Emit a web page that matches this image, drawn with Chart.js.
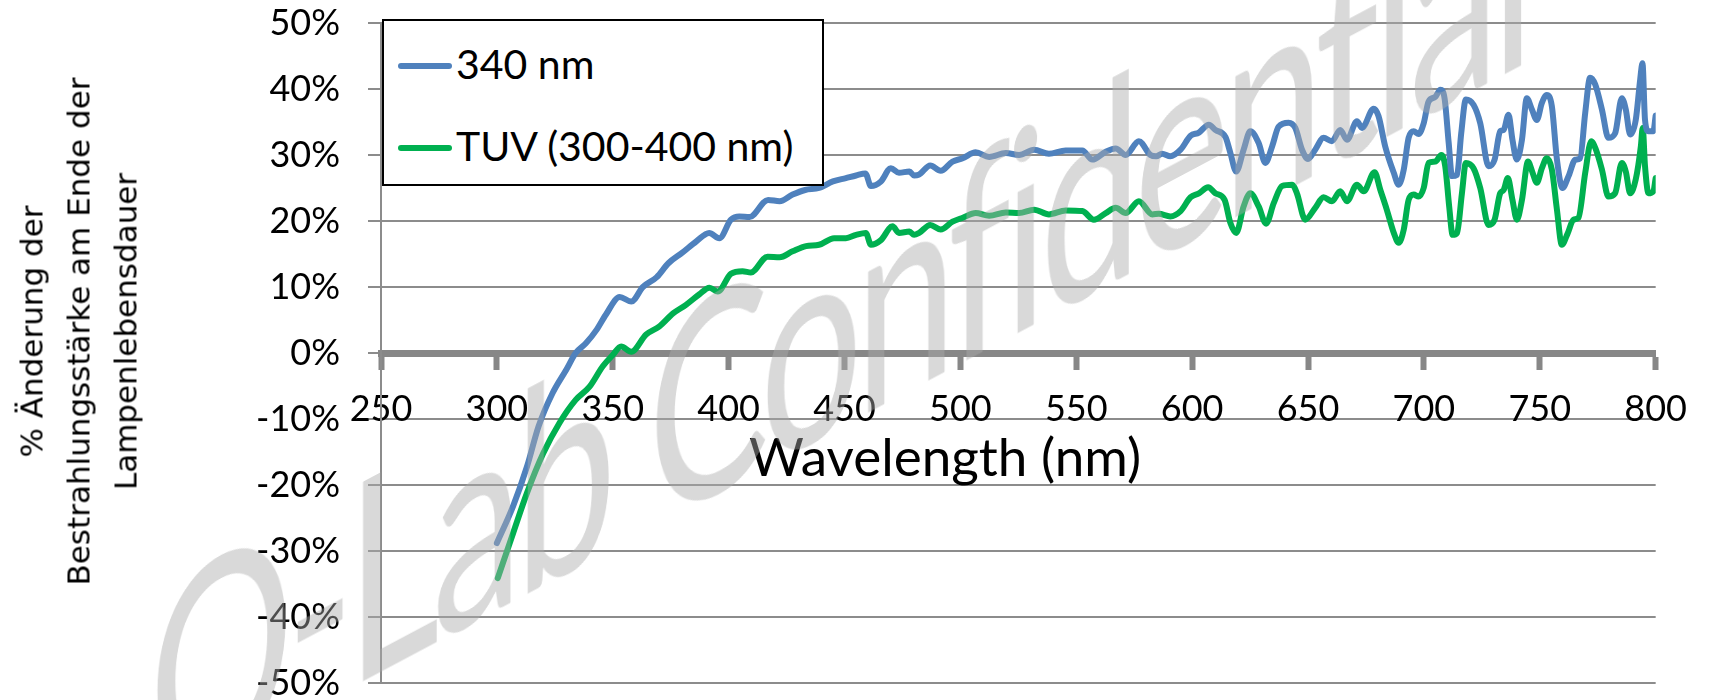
<!DOCTYPE html>
<html lang="de">
<head>
<meta charset="utf-8">
<title>Änderung der Bestrahlungsstärke</title>
<script src="https://cdn.jsdelivr.net/npm/chart.js@4.4.1/dist/chart.umd.min.js"></script>
<style>
  html, body { margin: 0; padding: 0; background: #fff; overflow: hidden; }
  #wrap { position: relative; width: 1709px; height: 700px; overflow: hidden; }
  #chart { position: absolute; left: 0; top: 0; }
  .ytitle {
    position: absolute; width: 560px; height: 141px;
    left: -201px; top: 261px;
    transform: rotate(-90deg); transform-origin: 50% 50%;
    font-family: 'DejaVu Sans', sans-serif; font-size: 31px; line-height: 47px;
    text-align: center; color: #000; white-space: nowrap;
  }
  .xtitle {
    position: absolute; left: 645px; width: 600px; top: 429px;
    font-family: Lato, sans-serif; font-size: 53px; line-height: 53px;
    text-align: center; color: #000;
  }
  .legend {
    position: absolute; left: 382px; top: 19px; width: 438px; height: 163px;
    border: 2px solid #000; background: #fff;
    font-family: Lato, sans-serif; font-size: 41px; color: #000;
  }
  .legend .row { position: absolute; left: 14px; height: 50px; line-height: 50px; white-space: nowrap; }
  .legend .swatch { display: inline-block; width: 54px; height: 6px; vertical-align: middle; margin-right: 4px; position: relative; top: -3px; border-radius: 3px; }
  .watermark {
    position: absolute; left: 838px; top: 322px;
    transform: translate(-50%, -50%) rotate(-28deg) skewX(-28deg) scaleY(1.2);
    font-family: Lato, sans-serif; font-size: 205px; letter-spacing: -0.04em; line-height: 1; white-space: nowrap;
    color: rgba(170, 170, 170, 0.45); pointer-events: none;
  }
</style>
</head>
<body>
<div id="wrap">
  <canvas id="chart" width="1709" height="700"></canvas>
  <div class="ytitle">% Änderung der<br>Bestrahlungsstärke am Ende der<br>Lampenlebensdauer</div>
  <div class="xtitle">Wavelength (nm)</div>
  <div class="legend" id="legend"></div>
  <div class="watermark">Q-Lab Confidential</div>
</div>
<script>
// ---- data (wavelength in nm, change in %) ----
const SERIES_340_LABEL = '340 nm';
const SERIES_TUV_LABEL = 'TUV (300-400 nm)';

const nm340 = [300, 307, 313, 318, 324, 330, 334, 338.5, 343, 347, 353, 358, 363, 369, 374, 380, 386, 391.6, 396, 401,
  404.6, 409, 417, 422, 427.6, 433, 439, 445, 450.6, 455, 459, 461.4, 465.7, 470, 473.5, 478, 480, 482, 487, 491.5,
  496.6, 501, 506.6, 512.4, 519.6, 525.3, 531.8, 538.2, 545.4, 552.6, 556.9, 562.7, 567, 571.3, 577, 582, 584.5, 587, 590.6, 595,
  599.3, 602.9, 607.2, 610, 614.4, 616.5, 619, 622.2, 625.1, 628.7, 631.6, 634.5, 637.3, 641.6, 644.5, 647.4, 650, 653.1, 656.7, 660.3,
  663.9, 666.8, 671.1, 673.3, 678.3, 680.4, 683.3, 687, 689.1, 691.3, 693.4, 695.6, 697.7, 699.9, 702, 704.9, 707.1, 708.9, 710.7, 712.1,
  714.3, 716.1, 718.1, 721.4, 724.3, 727.9, 730.5, 732.9, 734.4, 736.5, 738.2, 740.1, 742.3, 744.4, 746.6, 748.7, 750.9, 753, 755.2, 757.4,
  759.8, 762.4, 765.3, 767.4, 769.6, 771.7, 773.9, 776.8, 779.6, 782.5, 785.4, 787.1, 789, 791.4, 793.3, 794.3, 795.4, 796.9, 799, 800];
const pct340 = [-28.8, -23.2, -17.2, -11.1, -6.1, -2.5, 0, 1.5, 3.5, 5.8, 8.5, 7.8, 10, 11.5, 13.6, 15.2, 16.9, 18.2, 17.4, 20.2,
  20.7, 20.6, 23.2, 23, 24, 24.7, 25, 26, 26.5, 26.9, 27.2, 25.3, 26, 28, 27.3, 27.5, 26.9, 27, 28.4, 27.6,
  29, 29.5, 30.4, 29.7, 30.3, 30, 30.8, 30.2, 30.7, 30.7, 29.3, 30.5, 31, 30, 32.1, 30, 29.8, 30.2, 29.8, 30.8,
  32.9, 33.4, 34.6, 33.8, 32.7, 30.3, 27.5, 30.8, 33.6, 31.8, 28.8, 31.3, 34.3, 34.9, 34.1, 30.8, 29.4, 30.8, 32.6, 32.1,
  33.8, 32.3, 35.1, 34.1, 37, 35.9, 31.3, 27.3, 25.5, 27.8, 32.6, 33.6, 33.2, 34.8, 38.1, 38.8, 39.9, 38.6, 31.8, 26.8,
  27, 33.3, 38.4, 37.6, 34.8, 28.3, 29.3, 33.6, 33.8, 36.1, 32.3, 29.3, 32.3, 38.6, 36.9, 35.3, 37.9, 39.1, 37.4, 29.3,
  25, 26.8, 29.3, 29.5, 36.4, 41.7, 40.7, 36.9, 32.6, 33.3, 38.6, 36.9, 33.1, 35.3, 41.4, 43.9, 35.3, 33.6, 33.6, 36];

const nmTuv = [300.4, 307, 313, 320, 327, 334, 340, 345.7, 350, 353.6, 358, 364.4, 370, 376, 381.6, 387.4, 391.7, 395.3, 401, 406,
  409.6, 416.8, 422, 427.6, 433.4, 439, 445.5, 450.6, 455, 459.2, 461.4, 465.7, 470.7, 473.5, 478, 480, 482.2, 487, 491.5, 496.6,
  501, 506.6, 512.4, 519.6, 525.3, 531.8, 538.2, 545.4, 552.6, 557.6, 562.7, 567, 571.3, 577, 582.8, 585.6, 590.6, 595, 599.3, 602.9,
  606.9, 610, 614, 616.5, 619, 622.2, 625.1, 628.7, 631.9, 635.2, 638.8, 643.1, 645.2, 648.8, 653.1, 656.7, 660.3, 663.9, 666.8, 671.1,
  674, 678.7, 681.2, 684, 687, 689.1, 691.3, 693.4, 695.6, 697.7, 699.9, 702, 704.9, 707.5, 709.2, 710.9, 712.4, 714.3, 716.4, 718.1,
  721.4, 724.3, 727.9, 730.5, 732.9, 734.4, 736.2, 738.2, 740.1, 742.3, 744.9, 746.9, 748.7, 750.9, 753, 755.2, 757.4, 759.5, 762.1, 764.5,
  766.7, 769.6, 772.2, 773.9, 776.8, 779.6, 782.5, 785.4, 787.1, 789, 791.4, 793.6, 794.4, 795.4, 796.9, 799, 800];
const pctTuv = [-34.1, -27.3, -21.2, -15.2, -10.6, -7.1, -5.1, -2, -0.3, 1, 0.2, 2.8, 4, 6, 7.3, 8.9, 9.9, 9.3, 12, 12.4,
  12.2, 14.6, 14.5, 15.4, 16.2, 16.4, 17.4, 17.4, 17.9, 18.2, 16.4, 17.1, 19.2, 18.2, 18.4, 17.9, 18.2, 19.4, 18.7, 19.9,
  20.5, 21.2, 20.8, 21.3, 21.2, 21.7, 21, 21.6, 21.5, 20.2, 21.2, 22, 21.2, 23, 21, 21.1, 20.7, 21.5, 23.6, 24.2,
  25.1, 24.2, 23.2, 19.7, 18.2, 22.2, 24.2, 22.2, 19.6, 22.7, 25.3, 25.5, 24.2, 20.2, 22, 23.6, 23, 24.5, 23, 25.5,
  24.5, 27.4, 24.7, 21.7, 18.2, 16.7, 18.7, 23.2, 24, 23.7, 25, 28.8, 29, 30, 28.3, 22.2, 17.9, 18.2, 24.2, 28.8,
  28, 25, 19.4, 20.2, 24.2, 24.7, 26.5, 23.2, 20.2, 23.2, 29, 27.3, 25.8, 28, 29.5, 27.8, 21.7, 16.4, 18.2, 20.2,
  20.5, 27.3, 32.1, 31.1, 27.8, 23.7, 24.2, 28.8, 27.5, 24.2, 26.3, 31.3, 34.1, 28.3, 24.2, 24.5, 26.5];

// axis ranges / ticks
const X_MIN = 250, X_MAX = 800, X_STEP = 50;
const Y_MIN = -50, Y_MAX = 50, Y_STEP = 10;

const COLOR_340 = '#4f81bd';
const COLOR_TUV = '#00b050';
const AXIS_GREY = '#878787';
const GRID_GREY = '#8c8c8c';

const toPoints = (xs, ys) => xs.map((x, i) => ({ x: x, y: ys[i] }));

// HTML legend (boxed, like the original)
function buildLegend() {
  const el = document.getElementById('legend');
  [[SERIES_340_LABEL, COLOR_340, 18], [SERIES_TUV_LABEL, COLOR_TUV, 100]].forEach(([label, color, top]) => {
    const row = document.createElement('div');
    row.className = 'row';
    row.style.top = top + 'px';
    row.innerHTML = `<span class="swatch" style="background:${color}"></span>${label}`;
    el.appendChild(row);
  });
}
buildLegend();

const tickFont = { family: 'Lato', size: 36 };

const lineStyle = {
  borderWidth: 6,
  pointRadius: 0,
  cubicInterpolationMode: 'monotone',
  borderJoinStyle: 'round',
  borderCapStyle: 'round',
  fill: false
};

new Chart(document.getElementById('chart').getContext('2d'), {
  type: 'line',
  data: {
    datasets: [
      Object.assign({ label: SERIES_340_LABEL, data: toPoints(nm340, pct340), borderColor: COLOR_340 }, lineStyle),
      Object.assign({ label: SERIES_TUV_LABEL, data: toPoints(nmTuv, pctTuv), borderColor: COLOR_TUV }, lineStyle)
    ]
  },
  options: {
    responsive: false,
    animation: false,
    devicePixelRatio: 1,
    layout: { padding: { left: 0, top: 23, right: 52, bottom: 17 } },
    plugins: {
      legend: { display: false },
      tooltip: { enabled: false }
    },
    scales: {
      x: {
        type: 'linear',
        position: { y: 0 },
        min: X_MIN, max: X_MAX,
        ticks: { stepSize: X_STEP, color: '#000', font: tickFont, padding: 22, maxRotation: 0 },
        grid: { drawOnChartArea: false, drawTicks: true, tickLength: 13, tickWidth: 6, tickColor: AXIS_GREY },
        border: { display: true, width: 7, color: AXIS_GREY }
      },
      y: {
        type: 'linear',
        min: Y_MIN, max: Y_MAX,
        ticks: { stepSize: Y_STEP, color: '#000', font: tickFont, padding: 28, callback: v => v + '%' },
        grid: { color: GRID_GREY, lineWidth: 2, tickLength: 13, tickWidth: 2 },
        border: { display: true, width: 2, color: GRID_GREY },
        afterFit: s => { s.width = 381; s.paddingTop = 0; s.paddingBottom = 0; }
      }
    }
  }
});
</script>
</body>
</html>
